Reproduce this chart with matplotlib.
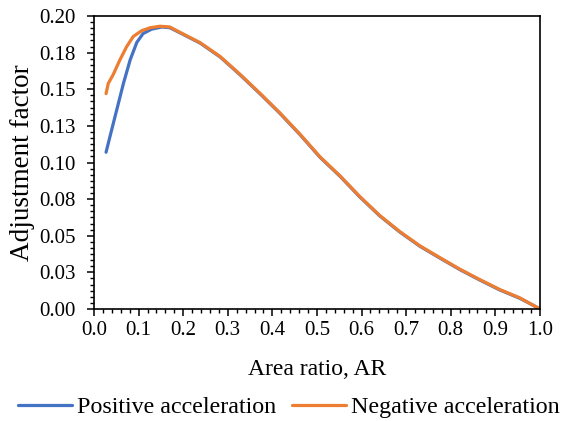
import matplotlib
matplotlib.use("Agg")
import matplotlib.pyplot as plt
from matplotlib.ticker import MultipleLocator, AutoMinorLocator

plt.rcParams['font.family'] = ['Liberation Serif', 'DejaVu Serif']

# area ratio vs adjustment factor
pos_x = [0.027, 0.036, 0.051, 0.066, 0.081, 0.096, 0.11, 0.129, 0.152, 0.17, 0.193,
         0.238, 0.283, 0.327, 0.372, 0.417, 0.462, 0.507, 0.552, 0.596, 0.641,
         0.686, 0.731, 0.776, 0.821, 0.865, 0.91, 0.955, 0.998]
pos_y = [0.107, 0.118, 0.136, 0.154, 0.170, 0.182, 0.188, 0.191, 0.1925, 0.192, 0.1885,
         0.1815, 0.172, 0.160, 0.147, 0.1335, 0.119, 0.1035, 0.0905, 0.0765, 0.0635,
         0.0525, 0.0428, 0.0347, 0.0268, 0.0198, 0.013, 0.0073, 0.0004]

neg_x = [0.027, 0.032, 0.043, 0.058, 0.073, 0.088, 0.107, 0.126, 0.148, 0.17, 0.193,
         0.238, 0.283, 0.327, 0.372, 0.417, 0.462, 0.507, 0.552, 0.596, 0.641,
         0.686, 0.731, 0.776, 0.821, 0.865, 0.91, 0.955, 0.998]
neg_y = [0.147, 0.154, 0.160, 0.170, 0.179, 0.186, 0.190, 0.192, 0.193, 0.1925, 0.1888,
         0.1818, 0.1723, 0.1603, 0.1473, 0.1338, 0.1193, 0.1038, 0.0908, 0.0768, 0.0638,
         0.0528, 0.0431, 0.035, 0.0271, 0.0201, 0.0133, 0.0076, 0.0004]

y_ticks = [0.0, 0.025, 0.05, 0.075, 0.1, 0.125, 0.15, 0.175, 0.2]
y_tick_labels = ['0.00', '0.03', '0.05', '0.08', '0.10', '0.13', '0.15', '0.18', '0.20']
x_ticks = [0.0, 0.1, 0.2, 0.3, 0.4, 0.5, 0.6, 0.7, 0.8, 0.9, 1.0]

fig = plt.figure(figsize=(5.63, 4.21), dpi=100)
ax = fig.add_axes([0.167, 0.266, 0.792, 0.696])

ax.plot(pos_x, pos_y, color='#4472C4', lw=2.3, label='Positive acceleration',
        solid_capstyle='round', solid_joinstyle='round')
ax.plot(neg_x, neg_y, color='#ED7D31', lw=2.3, label='Negative acceleration',
        solid_capstyle='round', solid_joinstyle='round')

ax.set_xlim(0, 1)
ax.set_ylim(0, 0.2)
ax.set_xticks(x_ticks)
ax.set_xticklabels([f'{v:.1f}' for v in x_ticks])
ax.xaxis.set_minor_locator(MultipleLocator(0.02))
ax.set_yticks(y_ticks)
ax.set_yticklabels(y_tick_labels)
ax.yaxis.set_minor_locator(AutoMinorLocator(6))

ax.tick_params(which='major', direction='out', length=5, width=1.1, labelsize=15, colors='black')
ax.tick_params(axis='y', which='major', pad=8)
ax.tick_params(which='minor', direction='out', length=3, width=1.0)
for s in ax.spines.values():
    s.set_linewidth(1.2)

ax.set_xlabel('Area ratio, AR', fontsize=17, labelpad=14)
ax.set_ylabel('Adjustment factor', fontsize=19.5, labelpad=3)

fig.legend(loc='center', bbox_to_anchor=(0.513, 14 / 421), ncol=2, frameon=False,
           fontsize=17.3, handlelength=2.25, columnspacing=0.67, handletextpad=0.21,
           borderpad=0)

fig.savefig('out.png', dpi=100)
